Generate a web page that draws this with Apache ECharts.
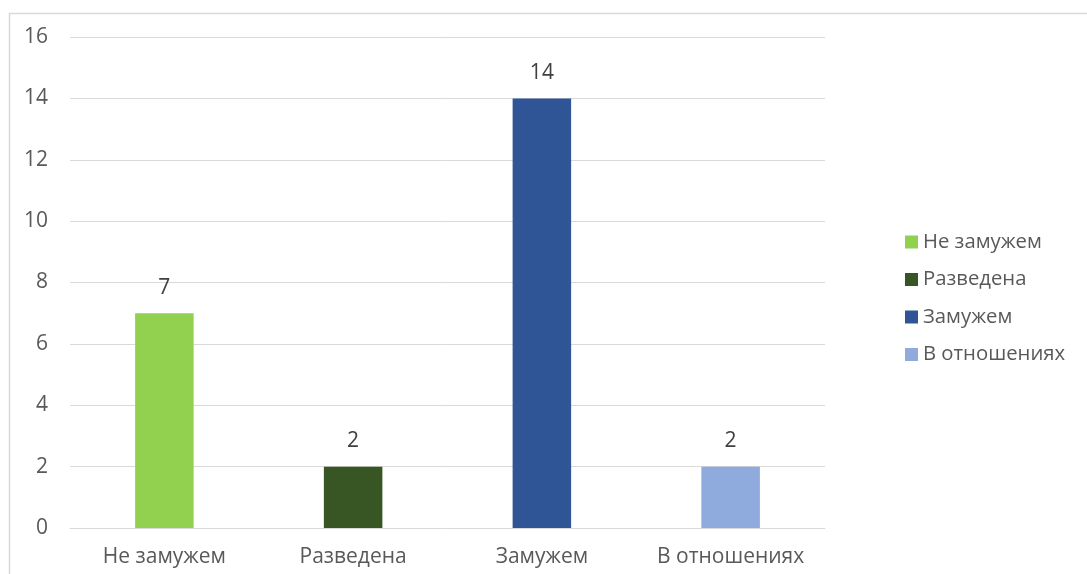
<!DOCTYPE html>
<html><head><meta charset="utf-8">
<script src="https://cdn.jsdelivr.net/npm/echarts@6/dist/echarts.min.js"></script>
<style>html,body{margin:0;padding:0;background:#fff}#c{width:1087px;height:574px}</style>
</head><body><div id="c"></div>
<script>
const categories = ["Не замужем", "Разведена", "Замужем", "В отношениях"];
const values = [7, 2, 14, 2];
const colors = ["#92d050", "#375623", "#2f5597", "#8faadc"];
const yTicks = {min: 0, max: 16, interval: 2};

const chart = echarts.init(document.getElementById('c'));
const font = '"Open Sans", "Liberation Sans", sans-serif';
const series = categories.map((name, i) => ({
  name: name,
  type: 'bar',
  stack: 'all',
  barWidth: '31%',
  itemStyle: {color: colors[i]},
  label: {show: true, position: 'top', distance: 15, color: '#404040', fontSize: 21, fontFamily: font},
  data: categories.map((c, j) => j === i ? values[i] : null)
}));
chart.setOption({
  animation: false,
  textStyle: {fontFamily: font},
  graphic: [{type: 'rect', shape: {x: 9.5, y: 13.5, width: 1100, height: 600}, style: {fill: null, stroke: '#d9d9d9', lineWidth: 1.5}, silent: true}],
  grid: {left: 70, right: 262, top: 37, bottom: 46},
  legend: {
    orient: 'vertical', left: 900, top: 227, itemGap: 17.5, itemWidth: 13, itemHeight: 13,
    icon: 'rect',
    textStyle: {color: '#595959', fontSize: 20.3, fontFamily: font},
    data: categories
  },
  xAxis: {
    type: 'category', data: categories,
    axisLine: {show: true, lineStyle: {color: '#d9d9d9', width: 1}},
    axisTick: {show: false},
    axisLabel: {color: '#595959', fontSize: 21, margin: 19, interval: 0, fontFamily: font}
  },
  yAxis: {
    type: 'value', min: yTicks.min, max: yTicks.max, interval: yTicks.interval,
    axisLine: {show: false}, axisTick: {show: false},
    axisLabel: {color: '#595959', fontSize: 21, margin: 22, fontFamily: font},
    splitLine: {lineStyle: {color: '#d9d9d9', width: 1}}
  },
  series: series
});
</script></body></html>
